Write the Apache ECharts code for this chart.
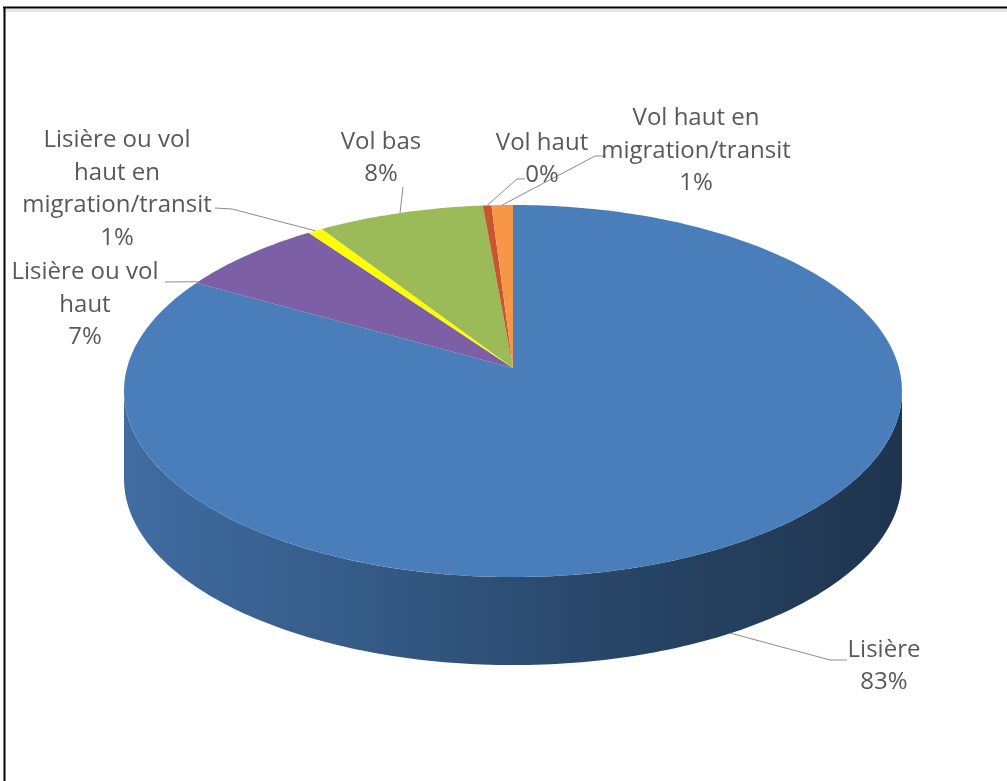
<!DOCTYPE html>
<html>
<head>
<meta charset="utf-8">
<script src="https://cdn.jsdelivr.net/npm/echarts@6/dist/echarts.min.js"></script>
<style>
  html, body { margin: 0; padding: 0; background: #ffffff; }
  #chart { width: 1007px; height: 781px; }
</style>
</head>
<body>
<div id="chart"></div>
<script>
// ---- data ----
const categories = [
  'Lisière',
  'Lisière ou vol haut',
  'Lisière ou vol haut en migration/transit',
  'Vol bas',
  'Vol haut',
  'Vol haut en migration/transit'
];
const values = [83.2, 6.9, 0.7, 7.8, 0.4, 1.0];
const labelLines = [
  ['Lisière'],
  ['Lisière ou vol', 'haut'],
  ['Lisière ou vol', 'haut en', 'migration/transit'],
  ['Vol bas'],
  ['Vol haut'],
  ['Vol haut en', 'migration/transit']
];
const colors = ['#4a7ebb', '#7d5fa6', '#ffff00', '#9bbb59', '#c5562e', '#f79646'];

// ---- layout (not data) ----
const geo = { cx: 513, cy: 368, a: 386, b: 183.2, p: 0.1237, depth: 88 };
const labelLayout = [
  { x: 884, y: 666, frac: 0.5, bottom: true, path: [[830, 660], [847, 660]] },
  { x: 85,  y: 305, frac: 0.02, path: [[165, 282]] },
  { x: 117, y: 189, frac: 0.5, path: [[232, 209], [215, 208]] },
  { x: 381, y: 158, frac: 0.5, path: [[403, 187]] },
  { x: 542, y: 159, frac: 0.5, path: [[517, 179], [525, 179]] },
  { x: 696, y: 151, frac: 0.5, path: [[595, 156], [606, 156]] }
];

const total = values.reduce((s, v) => s + v, 0);
const starts = [];
(function () { let acc = 0; values.forEach(v => { starts.push(acc / total * Math.PI * 2); acc += v; }); })();

function proj(t, dy) {
  const d = 1 + geo.p * Math.cos(t);
  return [geo.cx + geo.a * Math.sin(t) / d, geo.cy - geo.b * Math.cos(t) / d + (dy || 0)];
}
function arc(t0, t1, dy) {
  const n = Math.max(2, Math.ceil(Math.abs(t1 - t0) / (Math.PI * 2) * 360));
  const pts = [];
  for (let k = 0; k <= n; k++) pts.push(proj(t0 + (t1 - t0) * k / n, dy));
  return pts;
}
function shade(hex, f) {
  const n = parseInt(hex.slice(1), 16);
  const r = Math.round(((n >> 16) & 255) * f), g = Math.round(((n >> 8) & 255) * f), b = Math.round((n & 255) * f);
  return 'rgb(' + r + ',' + g + ',' + b + ')';
}

const tVis0 = Math.acos(-geo.p), tVis1 = Math.PI * 2 - tVis0;

function renderItem(params, api) {
  const i = params.dataIndex;
  const v = api.value(0);
  const t0 = starts[i];
  const t1 = t0 + v / total * Math.PI * 2;
  const col = colors[i];
  const children = [];
  // side wall (front part only)
  const s0 = Math.max(t0, tVis0), s1 = Math.min(t1, tVis1);
  if (s1 > s0) {
    const topArc = arc(s0, s1, 0);
    const botArc = arc(s1, s0, geo.depth);
    children.push({
      type: 'polygon', z2: 5,
      shape: { points: topArc.concat(botArc) },
      style: {
        fill: new echarts.graphic.LinearGradient(geo.cx - geo.a, 0, geo.cx + geo.a, 0, [
          { offset: 0, color: shade(col, 0.86) },
          { offset: 0.3, color: shade(col, 0.72) },
          { offset: 0.6, color: shade(col, 0.56) },
          { offset: 1, color: shade(col, 0.42) }
        ], true)
      }
    });
  }
  // top face
  children.push({
    type: 'polygon', z2: 10,
    shape: { points: [[geo.cx, geo.cy]].concat(arc(t0, t1, 0)) },
    style: { fill: col }
  });
  // leader line + label
  const L = labelLayout[i];
  const tm = t0 + (t1 - t0) * L.frac;
  const rim = proj(tm, L.bottom ? geo.depth : 0);
  children.push({
    type: 'polyline', z2: 20,
    shape: { points: [rim].concat(L.path) },
    style: { stroke: '#8c8c8c', lineWidth: 1, fill: null }
  });
  children.push({
    type: 'text', z2: 30,
    style: {
      text: labelLines[i].concat([Math.round(v) + '%']).join('\n'),
      x: L.x, y: L.y,
      align: 'center', verticalAlign: 'middle',
      fontFamily: 'Open Sans', fontSize: 24, lineHeight: 32.5,
      fill: '#595959'
    }
  });
  return { type: 'group', children: children };
}

const chart = echarts.init(document.getElementById('chart'), null, { renderer: 'canvas' });
chart.setOption({
  backgroundColor: '#ffffff',
  animation: false,
  graphic: [
    { type: 'line', shape: { x1: 3, y1: 10.5, x2: 1007, y2: 10.5 }, style: { stroke: '#e6e6e6', lineWidth: 3 }, z: 0 },
    { type: 'line', shape: { x1: 3, y1: 7.5, x2: 1007, y2: 7.5 }, style: { stroke: '#000000', lineWidth: 2 }, z: 1 },
    { type: 'line', shape: { x1: 4.5, y1: 7, x2: 4.5, y2: 781 }, style: { stroke: '#000000', lineWidth: 2 }, z: 1 }
  ],
  series: [{
    type: 'custom',
    coordinateSystem: 'none',
    renderItem: renderItem,
    data: values.map((v, i) => ({ name: categories[i], value: [v] }))
  }]
});
</script>
</body>
</html>
